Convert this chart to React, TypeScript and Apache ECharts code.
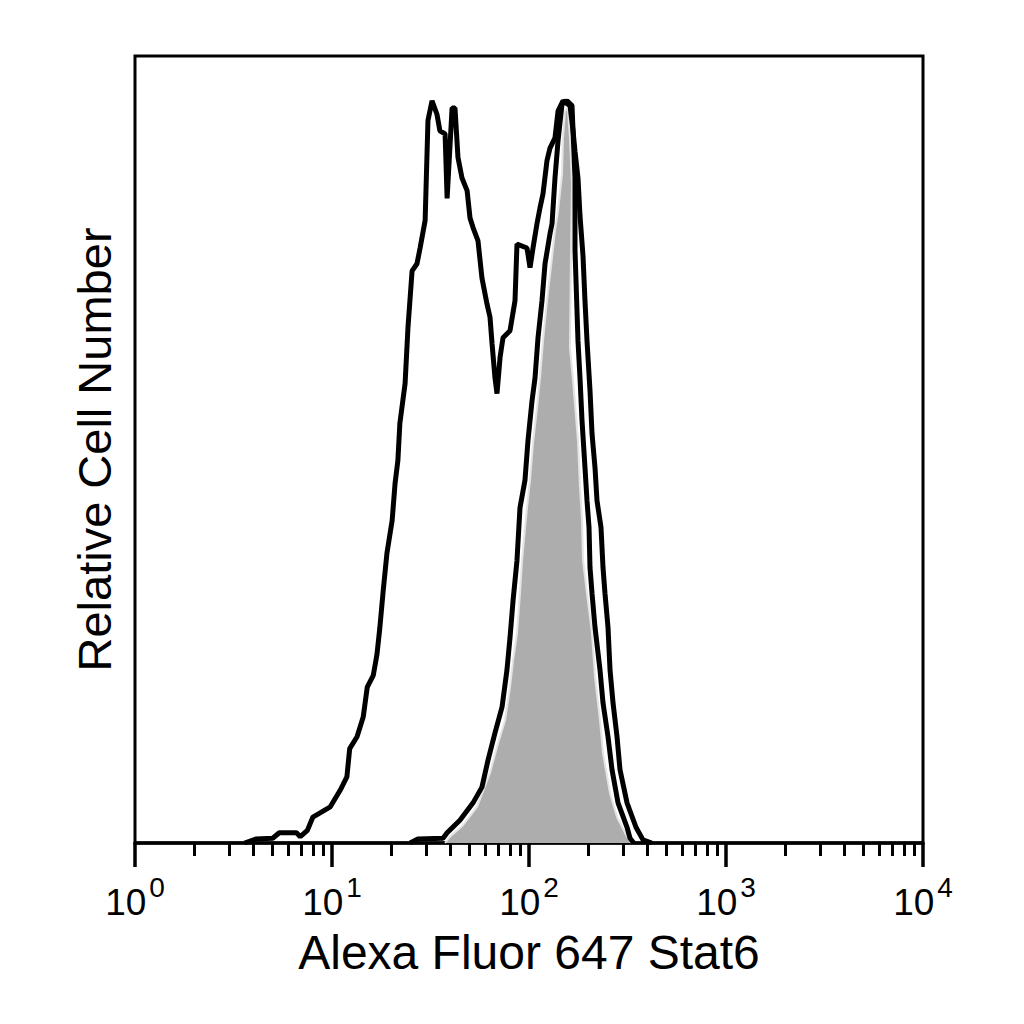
import React, { useEffect, useRef } from 'react';
import * as echarts from 'echarts';

const X_TITLE = 'Alexa Fluor 647 Stat6';
const Y_TITLE = 'Relative Cell Number';
const X_MIN = 1;
const X_MAX = 10000;
const Y_MAX = 100;

// minor ticks between the decades
const MINOR_TICKS = [
	2, 3, 4, 5, 6, 7, 8, 9,
	20, 30, 40, 50, 60, 70, 80, 90,
	200, 300, 400, 500, 600, 700, 800, 900,
	2000, 3000, 4000, 5000, 6000, 7000, 8000, 9000
];

// gray filled histogram
const FILLED: [number, number][] = [
	[37.5, 0], [39.7, 0.8], [46, 2.2], [54.5, 4.6], [63.4, 8.9], [68.8, 12.2], [75.6, 15.6],
	[80.1, 19.8], [83, 23.2], [86.9, 26.6], [90, 31.7], [92.2, 35.9], [95, 39.5],
	[97.7, 42.6], [101.2, 46.1], [104.8, 50.8], [109.8, 55.3], [113.7, 59.1], [117.8, 63.8],
	[123.4, 68.9], [130.9, 74.4], [135.5, 77.8], [140.4, 80.3], [147.1, 85], [148.8, 89.6],
	[152.3, 93], [156, 93.3], [157.8, 93], [161.5, 89.6], [165.3, 83.8], [163.4, 75.3],
	[161.5, 62.9], [167.3, 58.8], [177.3, 51.1], [181.5, 45.2], [185.8, 41], [188, 35.9],
	[197, 31.7], [208.9, 26.6], [216.3, 21.1], [229.3, 15.6], [237.5, 11.4], [257.8, 6.3],
	[279.8, 3.3], [314.5, 0.8], [330, 0]
];

// black outline hugging the gray one
const NARROW: [number, number][] = [
	[24.9, 0], [27.3, 0.5], [36.6, 0.6], [38.4, 1.3], [44.6, 2.9], [52, 5.1], [57.7, 7.1],
	[61.9, 10.5], [67.2, 14], [73, 17.3], [77.3, 22], [80.1, 26.1], [83, 30.8], [86.9, 35.9],
	[90, 42.6], [95.4, 46.1], [98.8, 51.1], [103.6, 56.2], [107.3, 59.1], [111.1, 64.2],
	[116.4, 68.9], [120.6, 73.6], [127.8, 77.4], [130.9, 78.7], [135.5, 84.5], [140.4, 89.2],
	[147.1, 93.9], [156, 94.3], [165.3, 93.7], [171.2, 84.5], [171.2, 75.3], [177.3, 63.8],
	[181.5, 59.1], [185.8, 53.7], [192.4, 47.7], [197, 43.5], [201.7, 40.1], [204, 35],
	[208.9, 31.7], [216.3, 27.4], [229.3, 22], [237.5, 17.8], [251.8, 13.5], [263.9, 9.3],
	[283.1, 5.1], [314.5, 2], [325.7, 0.6], [340, 0]
];

// bimodal black outline
const BIMODAL: [number, number][] = [
	[3.6, 0], [4.1, 0.5], [5, 0.6], [5.4, 1.3], [6.6, 1.3], [6.9, 0.8], [7.5, 1.6], [8, 3.3],
	[9.8, 4.6], [11, 6.7], [11.9, 8.4], [12.3, 12], [13.4, 13.5], [14.4, 16], [15.1, 19.8],
	[16.2, 21.3], [16.9, 23.9], [17.5, 27.4], [18.2, 32.1], [19, 36.8], [20.2, 41],
	[20.9, 45.7], [21.6, 48.6], [22.1, 53.3], [23.5, 58.4], [24.3, 65.5], [25.5, 72.7],
	[27, 73.6], [28, 75.6], [29.7, 79.1], [30.7, 91.8], [32.2, 94.3], [34.1, 92.6],
	[35.3, 90.5], [37.5, 90.1], [38.4, 81.9], [40.7, 93.4], [42.1, 93.4], [43.6, 87.1],
	[45.7, 84.5], [48.5, 82.9], [50.2, 79.4], [52, 78.2], [55.1, 76.5], [57.7, 71.8],
	[61.2, 68.5], [63.4, 66.8], [64.9, 63.5], [67.2, 59.1], [68.8, 57.1], [71.3, 61.7],
	[73.8, 64.2], [80.1, 65.1], [84.9, 68.9], [86.9, 76.1], [97.7, 75.6], [101.2, 73.1],
	[104.8, 75.6], [109.8, 78.7], [113.7, 80.7], [117.8, 82.5], [123.4, 86.7], [127.8, 88.3],
	[135.5, 89.6], [140.4, 93], [148.8, 94.3], [161.5, 93.7], [167.3, 90.5], [171.2, 87.9],
	[177.3, 84.5], [181.5, 79.7], [188, 74.6], [192.4, 68.9], [197, 63.8], [204, 57.5],
	[208.9, 52], [216.3, 47.7], [221.4, 43.5], [232, 40.1], [237.5, 35], [243.1, 31.7],
	[251.8, 27.4], [257.8, 22], [267, 17.8], [279.8, 13.5], [289.7, 9.3], [314.5, 5.1],
	[349.2, 2], [379.1, 0.4], [420, 0]
];

const FONT = '"Liberation Sans", Arial, sans-serif';

const App: React.FC = () => {
	const chartRef = useRef<HTMLDivElement>(null);

	useEffect(() => {
		if (!chartRef.current) return;
		const chart = echarts.init(chartRef.current, undefined, { renderer: 'svg' });

		const option: echarts.EChartsOption = {
			animation: false,
			backgroundColor: '#fff',
			textStyle: { fontFamily: FONT, color: '#000' },
			grid: {
				left: 135,
				right: 101,
				top: 56,
				bottom: 181,
				show: true,
				borderColor: '#000',
				borderWidth: 3,
				backgroundColor: 'transparent'
			},
			xAxis: [
				{
					type: 'log',
					logBase: 10,
					min: X_MIN,
					max: X_MAX,
					position: 'bottom',
					name: X_TITLE,
					nameLocation: 'middle',
					nameGap: 85,
					nameTextStyle: { fontSize: 48, color: '#000', fontFamily: FONT },
					axisLine: { show: true, onZero: false, lineStyle: { color: '#000', width: 3.5 } },
					axisTick: { show: true, inside: false, length: 24, lineStyle: { color: '#000', width: 3.5 } },
					minorTick: { show: false },
					splitLine: { show: false },
					axisLabel: {
						margin: 30,
						showMinLabel: true,
						showMaxLabel: true,
						formatter: (v: number) => `{base|10}{sup|${Math.round(Math.log10(v))}}`,
						rich: {
							base: { fontSize: 37, lineHeight: 58, color: '#000', fontFamily: FONT },
							sup: { fontSize: 28, lineHeight: 28, verticalAlign: 'top', color: '#000', fontFamily: FONT, padding: [0, 0, 0, 3] }
						}
					}
				},
				{
					// minor ticks, placed on a linear axis of the exponent
					type: 'value',
					min: Math.log10(X_MIN),
					max: Math.log10(X_MAX),
					position: 'bottom',
					axisLine: { show: false, onZero: false },
					axisTick: {
						show: true,
						inside: false,
						length: 13,
						customValues: MINOR_TICKS.map(v => Math.log10(v)),
						lineStyle: { color: '#000', width: 3 }
					},
					axisLabel: { show: false },
					splitLine: { show: false }
				}
			],
			yAxis: {
				type: 'value',
				min: 0,
				max: Y_MAX,
				name: Y_TITLE,
				nameLocation: 'middle',
				nameGap: 17,
				nameTextStyle: { fontSize: 47, color: '#000', fontFamily: FONT },
				axisLine: { show: false },
				axisTick: { show: false },
				axisLabel: { show: false },
				splitLine: { show: false }
			},
			series: [
				{
					name: 'filled',
					type: 'line',
					xAxisIndex: 0,
					data: FILLED,
					symbol: 'none',
					lineStyle: { color: '#e4e4e4', width: 2 },
					areaStyle: { color: '#adadad', opacity: 1 },
					z: 1
				},
				{
					name: 'narrow',
					type: 'line',
					xAxisIndex: 0,
					data: NARROW,
					symbol: 'none',
					lineStyle: { color: '#000', width: 5 },
					z: 2
				},
				{
					name: 'bimodal',
					type: 'line',
					xAxisIndex: 0,
					data: BIMODAL,
					symbol: 'none',
					lineStyle: { color: '#000', width: 5 },
					z: 3
				}
			]
		};

		chart.setOption(option);

		return () => {
			chart.dispose();
		};
	}, []);

	return (
		<div
			ref={chartRef}
			style={{ position: 'absolute', left: 0, top: 0, width: '1024px', height: '1024px' }}
		/>
	);
};

export default App;
